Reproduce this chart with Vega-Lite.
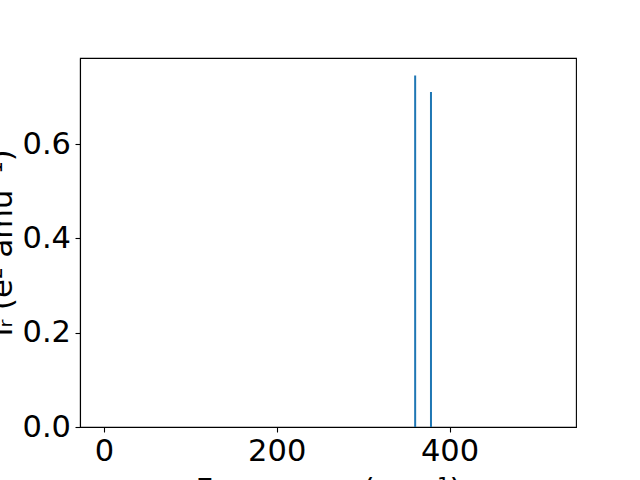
{
  "$schema": "https://vega.github.io/schema/vega-lite/v6.json",
  "width": 496,
  "height": 369,
  "autosize": {"type": "none"},
  "padding": {"left": 80, "top": 58, "right": 64, "bottom": 53},
  "background": "white",
  "config": {
    "font": "DejaVu Sans",
    "view": {"stroke": "black", "strokeWidth": 1.1},
    "axis": {
      "grid": false,
      "domainColor": "black",
      "domainWidth": 1.1,
      "tickColor": "black",
      "tickWidth": 1.1,
      "tickSize": 5,
      "labelFontSize": 30.5,
      "labelColor": "black",
      "labelPadding": 4.5,
      "titleFontSize": 30.5,
      "titleFontWeight": "normal",
      "titleColor": "black"
    }
  },
  "data": {
    "values": [
      {"frequency": 360.2, "intensity": 0.746},
      {"frequency": 378.5, "intensity": 0.711}
    ]
  },
  "mark": {"type": "rule", "color": "#1f77b4", "strokeWidth": 2},
  "encoding": {
    "x": {
      "field": "frequency",
      "type": "quantitative",
      "scale": {"domain": [-27.6, 546.3], "nice": false, "zero": false},
      "axis": {
        "values": [0, 200, 400],
        "format": "d",
        "title": "Frequency (cm⁻¹)",
        "titleBaseline": "alphabetic",
        "titleY": 72.7
      }
    },
    "y": {
      "field": "intensity",
      "type": "quantitative",
      "scale": {"domain": [0, 0.783], "nice": false},
      "axis": {
        "values": [0, 0.2, 0.4, 0.6],
        "format": ".1f",
        "title": "Iᵣ (e² amu⁻¹)",
        "titleBaseline": "alphabetic",
        "titleX": -69,
        "titleY": 184.5
      }
    },
    "y2": {"datum": 0}
  }
}
